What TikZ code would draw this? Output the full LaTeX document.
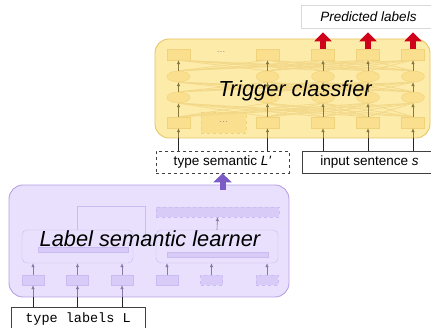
\documentclass[tikz,border=0pt]{standalone}
\usepackage{fontspec}
\setmainfont{Liberation Sans}
\setmonofont{Liberation Mono}
\usepackage{tikz}
\usetikzlibrary{positioning}
\usetikzlibrary{arrows.meta}
\usetikzlibrary{shapes}
\usetikzlibrary{calc}

\definecolor{ylwfill}{HTML}{FCEBA9}
\definecolor{ylwdraw}{HTML}{E6C665}
\definecolor{ylwcell}{HTML}{FADF8E}
\definecolor{ylwedge}{HTML}{F0D27A}
\definecolor{ylwline}{HTML}{F3D889}
\definecolor{plpfill}{HTML}{E8E0FC}
\definecolor{plpdraw}{HTML}{B7A1E4}
\definecolor{plpcell}{HTML}{D8CBF8}
\definecolor{plpedge}{HTML}{CBBBF3}
\definecolor{predred}{HTML}{D0021B}
\definecolor{learnpurple}{HTML}{7B5CC4}

\begin{document}
\begin{tikzpicture}[x=1pt,y=-1pt,
    panel/.style={rounded corners=14pt, line width=0.9pt, inner sep=0pt},
    ycell/.style={draw=ylwedge, fill=ylwcell, rectangle, minimum width=23pt,
    minimum height=11pt, inner sep=0pt},
    yhid/.style={draw=ylwedge, fill=ylwcell, ellipse, minimum width=23pt,
    minimum height=11pt, inner sep=0pt},
    pcell/.style={draw=plpedge, fill=plpcell, rectangle, minimum width=22pt,
    minimum height=10pt, inner sep=0pt},
    pbox/.style={draw=plpedge, rounded corners=5pt, minimum height=33pt,
    inner sep=0pt},
    pbar/.style={draw=plpedge, fill=plpcell, minimum height=5pt, inner sep=0pt},
    inbox/.style={draw=black!75, rectangle, line width=0.7pt, inner sep=0pt,
    text height=10pt, text depth=3pt, minimum height=22pt,
    font=\fontsize{13.5}{16}\selectfont},
    title/.style={anchor=base, font=\fontsize{21.8}{26}\selectfont\itshape},
    ylink/.style={draw=ylwline, line width=0.8pt},
    yarrow/.style={draw=black!40!ylwdraw, line width=0.6pt,
    -{Latex[length=4pt,width=3.5pt]}},
    parrow/.style={draw=black!25!plpdraw, line width=0.6pt,
    -{Latex[length=4pt,width=3.5pt]}},
    feed/.style={draw=black!85, line width=0.8pt},
    redarrow/.style={draw=predred, line width=6pt,
    -{Triangle[length=9pt,width=17pt]}},
    learnarrow/.style={draw=learnpurple, line width=6pt,
    -{Triangle[length=9pt,width=18pt]}}]
    \useasboundingbox (0,0) rectangle (431,328);

    % trigger classifier
    \node[panel, draw=ylwdraw, fill=ylwfill, minimum width=275pt,
    minimum height=99pt] (trig) at (292.5,88.5) {};
    \foreach \x/\n in {178.5/1,267.5/2,323/3,368/4,413/5} {
        \node[ycell] (top\n) at (\x,54.5) {};
        \node[yhid] (ha\n) at (\x,76.5) {};
        \node[yhid] (hb\n) at (\x,97.5) {};
        \node[ycell] (bot\n) at (\x,122.5) {};
    }
    \node[ycell, dashed, minimum width=45pt, minimum height=21pt,
    text=black!45, font=\small] (botdots) at (223.5,122.5) {\dots};
    \node[text=black!45, font=\small] (topdots) at (221,52) {\dots};
    \foreach \i in {1,...,5} \foreach \j in {1,...,5} {
        \draw[ylink] (bot\i.north) -- (hb\j.south);
        \draw[ylink] (hb\i.north) -- (ha\j.south);
        \draw[ylink] (ha\i.north) -- (top\j.south);
    }
    \foreach \n in {1,...,5} {
        \draw[yarrow] (bot\n.north) -- (hb\n.south);
        \draw[yarrow] (hb\n.north) -- (ha\n.south);
        \draw[yarrow] (ha\n.north) -- (top\n.south);
    }
    \node[title] (trigname) at (295,97) {Trigger classfier};

    % predicted labels
    \node[draw=black!15, line width=0.6pt, minimum width=135pt,
    minimum height=23pt, font=\fontsize{13.5}{16}\selectfont\itshape]
    (pred) at (368.5,16.5) {Predicted labels};
    \foreach \n in {3,4,5}
        \draw[redarrow, shorten >=4pt] (top\n.north) -- (top\n |- pred.south);

    % inputs of the classifier
    \node[inbox, dashed, minimum width=133pt] (sem) at (222.5,162)
    {type semantic \textit{L\textquotesingle}};
    \node[inbox, minimum width=135pt] (sent) at (369.5,162)
    {input sentence \textit{s}};
    \foreach \n in {1,2} {
        \draw[feed] (sem.north -| bot\n) -- (bot\n |- trig.south);
        \draw[yarrow] (bot\n |- trig.south) -- (bot\n.south);
    }
    \foreach \n in {3,4,5} {
        \draw[feed] (sent.north -| bot\n) -- (bot\n |- trig.south);
        \draw[yarrow] (bot\n |- trig.south) -- (bot\n.south);
    }

    % label semantic learner
    \node[panel, draw=plpdraw, fill=plpfill, minimum width=280pt,
    minimum height=112pt] (lsl) at (149,241) {};
    \node[pbox, minimum width=111pt] (lbox) at (77.5,246.5) {};
    \node[pbox, minimum width=122pt] (rbox) at (217,246.5) {};
    \node[pbar, minimum width=90pt] (lbar) at (83,249.5) {};
    \node[pbar, minimum width=101pt] (rbar) at (217.5,254.5) {};
    \node[pbar, dashed, minimum width=123pt, minimum height=10pt]
    (tbar) at (217.5,212) {};
    \foreach \x/\n in {33/1,77.5/2,122/3,167/4}
        \node[pcell] (pc\n) at (\x,280) {};
    \node[pcell, dashed] (pc5) at (211.5,280) {};
    \node[pcell, dashed] (pc6) at (267,280) {};
    \foreach \n in {1,2,3}
        \draw[parrow] (pc\n.north) -- (pc\n |- lbox.south);
    \foreach \n in {4,5,6}
        \draw[parrow] (pc\n.north) -- (pc\n |- rbox.south);
    \draw[parrow] (rbox.north) -- (tbar.south);
    \coordinate (lnkend) at (145,243);
    \draw[draw=plpedge, line width=0.8pt] (lbox.north)
    -- (lbox.north |- tbar.north) -| (lnkend);
    \node[title] (lslname) at (150,247) {Label semantic learner};

    % type labels
    \node[inbox, anchor=north, minimum width=134pt, text height=12pt,
    text depth=16pt, inner ysep=3pt,
    font=\fontsize{13.5}{16}\selectfont\ttfamily] (types) at (78,307)
    {type labels L};
    \foreach \n in {1,2,3} {
        \draw[feed] (types.north -| pc\n) -- (pc\n |- lsl.south);
        \draw[parrow] (pc\n |- lsl.south) -- (pc\n.south);
    }

    \draw[learnarrow] ($(sem.south |- lsl.north)+(0,5)$) -- (sem.south);
\end{tikzpicture}
\end{document}
